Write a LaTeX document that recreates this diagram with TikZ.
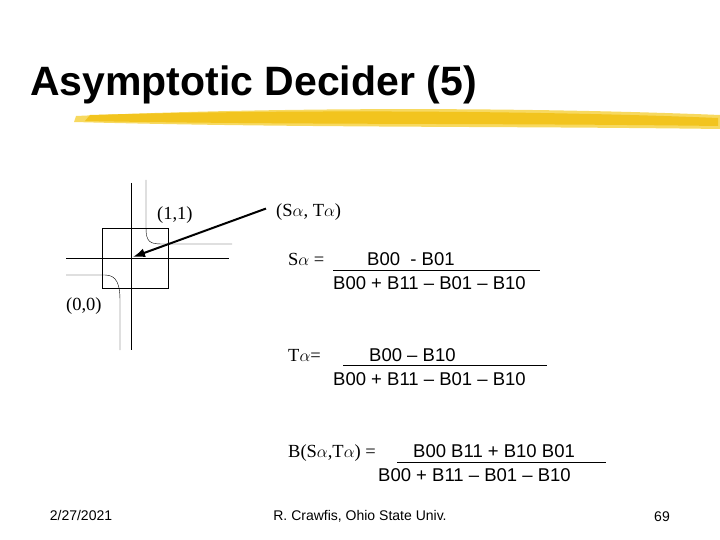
\documentclass[tikz,border=0pt]{standalone}
\usepackage{fontspec}
\setmainfont{Liberation Serif}
\setsansfont{Liberation Sans}
\usetikzlibrary{positioning,arrows.meta}
\definecolor{brush}{HTML}{F2C41E}
\definecolor{brushlight}{HTML}{F7D960}

\begin{document}
\begin{tikzpicture}[x=1pt,y=-1pt,
      lbl/.style={font=\fontsize{18.5}{22}\selectfont, inner sep=0pt, anchor=base west},
      formula/.style={font=\sffamily\fontsize{18.5}{22}\selectfont, inner sep=0pt, anchor=base west},
      foot/.style={font=\sffamily\fontsize{14}{16}\selectfont, inner sep=0pt, anchor=base}
      ]
      \useasboundingbox (0,0) rectangle (720,540);
      % title and brush stroke
      \node[font=\sffamily\bfseries\fontsize{41}{48}\selectfont, inner sep=0pt, anchor=base west] (title) at (30,96) {Asymptotic Decider (5)};
      \fill[brushlight] (76,116) .. controls (300,106) and (550,108) .. (720,115) -- (720,129) .. controls (500,126) and (300,128) .. (74,122) -- cycle;
      \fill[brush] (90,115) .. controls (300,109) and (550,111) .. (718,118) -- (718,126) .. controls (500,123) and (300,125) .. (85,121) -- cycle;
      % cell with contour lines
      \draw (102,228) rectangle (168,288);
      \draw (131,183) -- (131,350);
      \draw (66,258) -- (229,258);
      \draw (146,180) -- (146,228) .. controls (146,242) and (150,244) .. (162,244) -- (232,244);
      \draw (66,275) -- (105,275) .. controls (117,275) and (120,285) .. (120,300) -- (120,350);
      \node[lbl] (P11) at (157,219) {(1,1)};
      \node[lbl] (P00) at (66,310) {(0,0)};
      \coordinate (saddle) at (133,257);
      \node[lbl] (ST) at (276,217) {(S$\alpha$, T$\alpha$)};
      \draw[line width=2pt, -{Latex[length=12pt,width=9pt]}] (ST.west) ++(-10,-4) -- (saddle);
      % S alpha
      \node[lbl] (SA) at (288,265) {S$\alpha$ =};
      \node[formula] (SAN) at (367,265) {B00\ \ - B01};
      \node[formula] (SAD) at (333,289) {B00 + B11 -- B01 -- B10};
      \draw (333,270) -- (540,270);
      % T alpha
      \node[lbl] (TA) at (288,361) {T$\alpha$=};
      \node[formula] (TAN) at (369,361) {B00 -- B10};
      \node[formula] (TAD) at (333,385) {B00 + B11 -- B01 -- B10};
      \draw (343,365) -- (547,365);
      % B(S,T)
      \node[lbl] (BA) at (288,457) {B(S$\alpha$,T$\alpha$) =};
      \node[formula] (BAN) at (413,457) {B00 B11 + B10 B01};
      \node[formula] (BAD) at (378,481) {B00 + B11 -- B01 -- B10};
      \draw (397,462) -- (606,462);
      % footer
      \node[foot] (date) at (81,520) {2/27/2021};
      \node[foot] (author) at (360,520) {R. Crawfis, Ohio State Univ.};
      \node[foot] (page) at (662,521) {69};
    \end{tikzpicture}
\end{document}
